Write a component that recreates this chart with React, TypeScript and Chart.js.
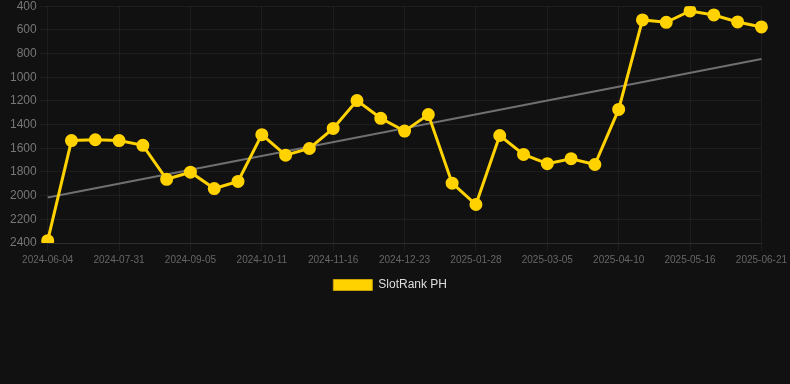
import React, { useEffect, useRef } from "react";
import { Chart, registerables } from "chart.js";

Chart.register(...registerables);

const labels: string[] = [
  "2024-06-04", "2024-07-07", "2024-07-19", "2024-07-31", "2024-08-12", "2024-08-24",
  "2024-09-05", "2024-09-17", "2024-09-29", "2024-10-11", "2024-10-23", "2024-11-04",
  "2024-11-16", "2024-11-28", "2024-12-10", "2024-12-23", "2025-01-04", "2025-01-16",
  "2025-01-28", "2025-02-09", "2025-02-21", "2025-03-05", "2025-03-17", "2025-03-29",
  "2025-04-10", "2025-04-22", "2025-05-04", "2025-05-16", "2025-05-28", "2025-06-09",
  "2025-06-21",
];

const slotRankPH: number[] = [
  2380, 1535, 1528, 1535, 1575, 1862, 1802, 1940, 1880, 1485, 1658,
  1602, 1432, 1197, 1347, 1455, 1315, 1895, 2075, 1492, 1652, 1730,
  1688, 1737, 1272, 516, 536, 440, 474, 533, 575,
];

const trendStart = 2016;
const trendEnd = 846;
const trend: (number | null)[] = labels.map((_, i) =>
  i === 0 ? trendStart : i === labels.length - 1 ? trendEnd : null
);

const yTicksMin = 400;
const yTicksMax = 2400;
const yStep = 200;

export default function App() {
  const ref = useRef<HTMLCanvasElement>(null);
  useEffect(() => {
    document.body.style.margin = "0";
    document.body.style.background = "#111111";
    if (!ref.current) return;
    const chart = new Chart(ref.current, {
      type: "line",
      data: {
        labels,
        datasets: [
          {
            label: "SlotRank PH",
            data: slotRankPH,
            borderColor: "#FFD200",
            backgroundColor: "#FFD200",
            borderWidth: 3,
            pointRadius: 5,
            pointHoverRadius: 5,
            pointBackgroundColor: "#FFD200",
            pointBorderColor: "#FFD200",
            tension: 0,
          },
          {
            label: "trend",
            data: trend,
            borderColor: "#707070",
            backgroundColor: "#707070",
            borderWidth: 2,
            pointRadius: 0,
            spanGaps: true,
          },
        ],
      },
      options: {
        animation: false,
        responsive: false,
        maintainAspectRatio: false,
        layout: { padding: { left: 7, top: 0, right: 0, bottom: 0 } },
        plugins: {
          legend: {
            position: "bottom",
            labels: {
              color: "#dddddd",
              font: { size: 12 },
              boxWidth: 39,
              boxHeight: 11,
              generateLabels: (c) => {
                const items = Chart.defaults.plugins.legend.labels.generateLabels(c);
                return items
                  .filter((it) => it.text !== "trend")
                  .map((it) => ({
                    ...it,
                    text: it.text + "\u00a0\u00a0\u00a0\u00a0\u00a0",
                    lineWidth: 1,
                    strokeStyle: "#C8A200",
                  }));
              },
            },
          },
          tooltip: { enabled: false },
        },
        scales: {
          x: {
            grid: { color: "rgba(255,255,255,0.05)" },
            border: { color: "rgba(255,255,255,0.08)" },
            ticks: { color: "#666666", font: { size: 10 }, maxRotation: 0, autoSkip: true },
          },
          y: {
            reverse: true,
            min: yTicksMin,
            max: yTicksMax,
            grid: { color: "rgba(255,255,255,0.05)" },
            border: { display: false },
            ticks: {
              color: "#777777",
              font: { size: 12 },
              stepSize: yStep,
              callback: (v) => String(v),
            },
          },
        },
      },
    });
    return () => chart.destroy();
  }, []);
  return (
    <div style={{ width: 790, height: 384, background: "#111111", overflow: "hidden" }}>
      <canvas
        ref={ref}
        width={790}
        height={305}
        style={{ display: "block", marginTop: -4 }}
      />
    </div>
  );
}
